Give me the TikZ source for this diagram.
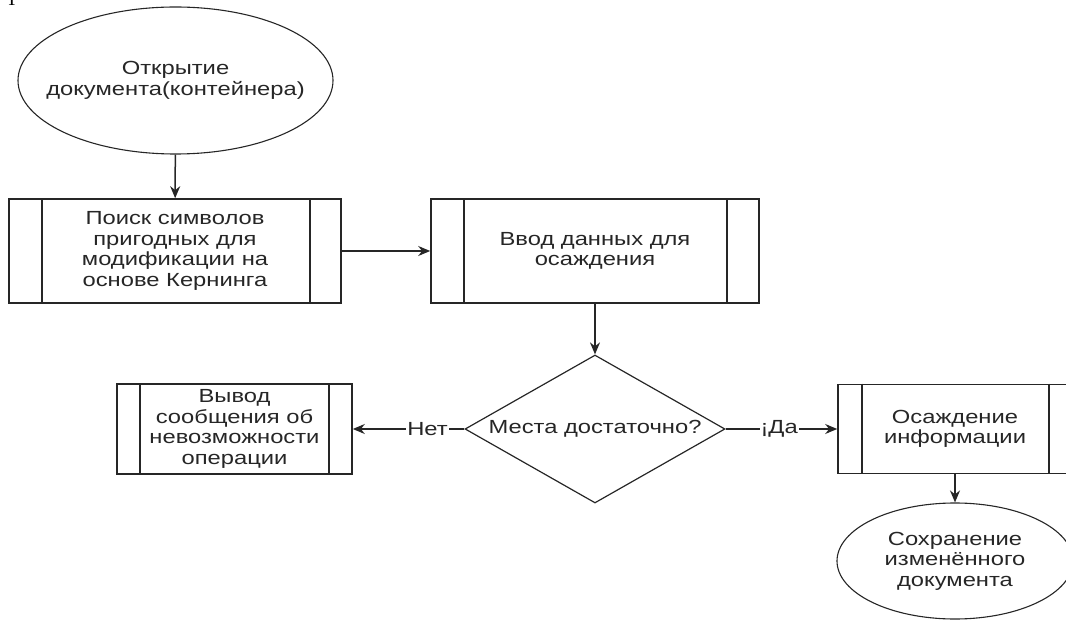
\documentclass[tikz,border=0pt]{standalone}
\usepackage{fontspec}
\setmainfont{Liberation Sans}[FakeStretch=1.25]
\newfontfamily\serifT{Liberation Serif}
\usetikzlibrary{shapes.geometric,arrows.meta}
\definecolor{ink}{HTML}{262626}
\begin{document}
\begin{tikzpicture}[x=1pt,y=-1pt,
  txt/.style={font=\fontsize{19}{20.5}\selectfont, text=ink, align=center},
  proc/.style={txt, draw=ink, line width=1.6pt, rectangle, inner sep=0pt},
  term/.style={draw=ink, line width=1.1pt, ellipse, inner sep=0pt},
  dec/.style={txt, draw=ink, line width=1.2pt, diamond, aspect=1.76, inner sep=0pt},
  arr/.style={draw=ink, line width=1.5pt, -{Stealth[length=12pt,width=10pt]}},
  lbl/.style={txt, fill=white, inner sep=1pt},
  bar/.style={draw=ink, line width=1.6pt}]
\useasboundingbox (0,0) rectangle (1066,620);
\node[anchor=base, font=\serifT\fontsize{19}{19}\selectfont] (frag) at (12,6) {Т};
\node[term, minimum width=315pt, minimum height=147pt] (e1) at (175.5,80.5) {};
\node[txt] (e1t) at (e1.center) {Открытие\\документа(контейнера)};
\node[proc, minimum width=332pt, minimum height=104pt] (b1) at (175,251) {Поиск символов\\пригодных для\\модификации на\\основе Кернинга};
\node[proc, minimum width=328pt, minimum height=104pt] (b2) at (595,251) {Ввод данных для\\осаждения};
\node[dec, minimum width=260pt, minimum height=148pt] (d) at (595,429) {Места достаточно?};
\node[proc, minimum width=235pt, minimum height=90pt] (b3) at (234.5,429) {Вывод\\сообщения об\\невозможности\\операции};
\node[proc, minimum width=234pt, minimum height=89pt] (b4) at (955,429) {Осаждение\\информации};
\node[term, minimum width=236pt, minimum height=116pt] (e2) at (955,561) {};
\node[txt] (e2t) at (e2.center) {Сохранение\\изменённого\\документа};
% inner bars of predefined processes
\draw[bar] ([xshift=34pt]b1.north west) -- ([xshift=34pt]b1.south west);
\draw[bar] ([xshift=-32pt]b1.north east) -- ([xshift=-32pt]b1.south east);
\draw[bar] ([xshift=34pt]b2.north west) -- ([xshift=34pt]b2.south west);
\draw[bar] ([xshift=-33pt]b2.north east) -- ([xshift=-33pt]b2.south east);
\draw[bar] ([xshift=24pt]b3.north west) -- ([xshift=24pt]b3.south west);
\draw[bar] ([xshift=-24pt]b3.north east) -- ([xshift=-24pt]b3.south east);
\draw[bar] ([xshift=25pt]b4.north west) -- ([xshift=25pt]b4.south west);
\draw[bar] ([xshift=-24pt]b4.north east) -- ([xshift=-24pt]b4.south east);
% connectors
\draw[arr] (e1) -- (b1);
\draw[arr] (b1) -- (b2);
\draw[arr] (b2) -- (d);
\draw[arr] (d.west) -- node[lbl, pos=0.33] {Нет} (b3.east);
\draw[arr] (d.east) -- node[lbl, pos=0.48] {¡Да} (d.east -| b4.west);
\draw[arr] (b4) -- (e2);
\end{tikzpicture}
\end{document}
